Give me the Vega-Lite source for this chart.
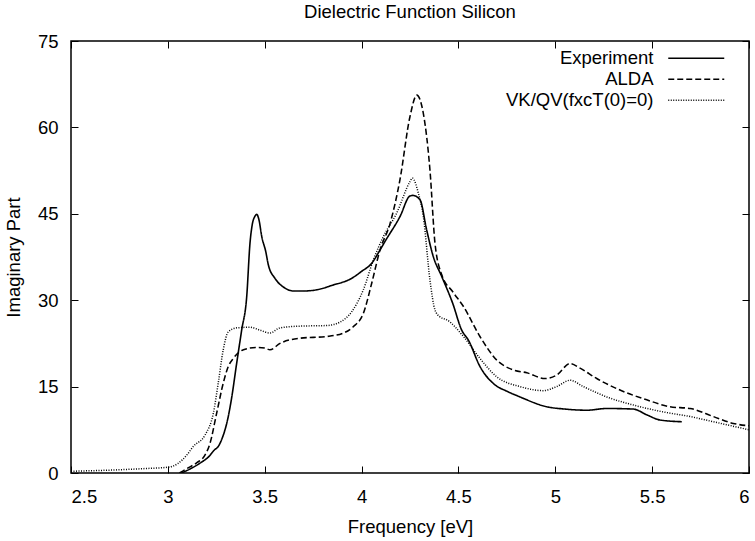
{
  "$schema": "https://vega.github.io/schema/vega-lite/v6.json",
  "width": 678,
  "height": 432,
  "autosize": {"type": "none"},
  "padding": {"left": 71, "top": 41, "right": 6, "bottom": 68},
  "background": "white",
  "title": {"text": "Dielectric Function Silicon", "fontSize": 18.5, "font": "Liberation Sans", "fontWeight": "normal", "color": "black", "offset": 11, "anchor": "middle"},
  "config": {
    "view": {"stroke": "black", "strokeWidth": 1.5},
    "font": "Liberation Sans",
    "axis": {"grid": false, "domain": false, "tickColor": "black", "tickWidth": 1, "tickSize": -7, "labelFont": "Liberation Sans", "labelFontSize": 18.5, "labelColor": "black", "titleFont": "Liberation Sans", "titleFontSize": 18.5, "titleFontWeight": "normal", "titleColor": "black"}
  },
  "data": {"values": [
    {"s": "Experiment", "x": 3.07, "y": 0},
    {"s": "Experiment", "x": 3.12, "y": 0.8},
    {"s": "Experiment", "x": 3.17, "y": 1.8},
    {"s": "Experiment", "x": 3.21, "y": 2.8},
    {"s": "Experiment", "x": 3.24, "y": 4.0},
    {"s": "Experiment", "x": 3.26, "y": 4.6},
    {"s": "Experiment", "x": 3.28, "y": 6.0},
    {"s": "Experiment", "x": 3.295, "y": 7.5},
    {"s": "Experiment", "x": 3.31, "y": 9.5},
    {"s": "Experiment", "x": 3.33, "y": 13.2},
    {"s": "Experiment", "x": 3.355, "y": 19.0},
    {"s": "Experiment", "x": 3.381, "y": 24.8},
    {"s": "Experiment", "x": 3.407, "y": 30.6},
    {"s": "Experiment", "x": 3.424, "y": 39.9},
    {"s": "Experiment", "x": 3.435, "y": 43.0},
    {"s": "Experiment", "x": 3.45, "y": 44.6},
    {"s": "Experiment", "x": 3.459, "y": 44.9},
    {"s": "Experiment", "x": 3.47, "y": 44.0},
    {"s": "Experiment", "x": 3.485, "y": 41.0},
    {"s": "Experiment", "x": 3.505, "y": 38.5},
    {"s": "Experiment", "x": 3.519, "y": 36.1},
    {"s": "Experiment", "x": 3.553, "y": 33.8},
    {"s": "Experiment", "x": 3.6, "y": 32.2},
    {"s": "Experiment", "x": 3.648, "y": 31.6},
    {"s": "Experiment", "x": 3.7, "y": 31.6},
    {"s": "Experiment", "x": 3.768, "y": 31.8},
    {"s": "Experiment", "x": 3.85, "y": 32.6},
    {"s": "Experiment", "x": 3.949, "y": 33.8},
    {"s": "Experiment", "x": 4.0, "y": 35.0},
    {"s": "Experiment", "x": 4.052, "y": 36.4},
    {"s": "Experiment", "x": 4.095, "y": 38.7},
    {"s": "Experiment", "x": 4.121, "y": 40.2},
    {"s": "Experiment", "x": 4.198, "y": 44.5},
    {"s": "Experiment", "x": 4.25, "y": 48.1},
    {"s": "Experiment", "x": 4.265, "y": 48.2},
    {"s": "Experiment", "x": 4.302, "y": 47.4},
    {"s": "Experiment", "x": 4.336, "y": 42.2},
    {"s": "Experiment", "x": 4.37, "y": 37.6},
    {"s": "Experiment", "x": 4.414, "y": 34.1},
    {"s": "Experiment", "x": 4.47, "y": 29.5},
    {"s": "Experiment", "x": 4.517, "y": 24.8},
    {"s": "Experiment", "x": 4.551, "y": 23.1},
    {"s": "Experiment", "x": 4.611, "y": 18.5},
    {"s": "Experiment", "x": 4.689, "y": 15.3},
    {"s": "Experiment", "x": 4.75, "y": 14.2},
    {"s": "Experiment", "x": 4.818, "y": 13.2},
    {"s": "Experiment", "x": 4.956, "y": 11.5},
    {"s": "Experiment", "x": 5.05, "y": 11.1},
    {"s": "Experiment", "x": 5.162, "y": 10.9},
    {"s": "Experiment", "x": 5.266, "y": 11.2},
    {"s": "Experiment", "x": 5.403, "y": 11.1},
    {"s": "Experiment", "x": 5.472, "y": 10.1},
    {"s": "Experiment", "x": 5.541, "y": 9.2},
    {"s": "Experiment", "x": 5.653, "y": 8.9},
    {"s": "ALDA", "x": 3.06, "y": 0},
    {"s": "ALDA", "x": 3.1, "y": 0.8},
    {"s": "ALDA", "x": 3.15, "y": 1.8},
    {"s": "ALDA", "x": 3.19, "y": 3.0},
    {"s": "ALDA", "x": 3.218, "y": 5.2},
    {"s": "ALDA", "x": 3.252, "y": 10.4},
    {"s": "ALDA", "x": 3.286, "y": 15.6},
    {"s": "ALDA", "x": 3.312, "y": 18.5},
    {"s": "ALDA", "x": 3.338, "y": 19.9},
    {"s": "ALDA", "x": 3.39, "y": 21.4},
    {"s": "ALDA", "x": 3.459, "y": 21.8},
    {"s": "ALDA", "x": 3.5, "y": 21.7},
    {"s": "ALDA", "x": 3.527, "y": 21.4},
    {"s": "ALDA", "x": 3.579, "y": 22.5},
    {"s": "ALDA", "x": 3.682, "y": 23.4},
    {"s": "ALDA", "x": 3.82, "y": 23.7},
    {"s": "ALDA", "x": 3.906, "y": 24.3},
    {"s": "ALDA", "x": 3.957, "y": 25.4},
    {"s": "ALDA", "x": 4.009, "y": 27.7},
    {"s": "ALDA", "x": 4.052, "y": 32.9},
    {"s": "ALDA", "x": 4.095, "y": 38.7},
    {"s": "ALDA", "x": 4.147, "y": 43.3},
    {"s": "ALDA", "x": 4.198, "y": 50.9},
    {"s": "ALDA", "x": 4.25, "y": 61.9},
    {"s": "ALDA", "x": 4.285, "y": 65.6},
    {"s": "ALDA", "x": 4.319, "y": 62.4},
    {"s": "ALDA", "x": 4.353, "y": 52.6},
    {"s": "ALDA", "x": 4.379, "y": 39.9},
    {"s": "ALDA", "x": 4.414, "y": 34.4},
    {"s": "ALDA", "x": 4.47, "y": 31.5},
    {"s": "ALDA", "x": 4.526, "y": 28.9},
    {"s": "ALDA", "x": 4.611, "y": 23.7},
    {"s": "ALDA", "x": 4.698, "y": 19.6},
    {"s": "ALDA", "x": 4.783, "y": 17.9},
    {"s": "ALDA", "x": 4.853, "y": 17.4},
    {"s": "ALDA", "x": 4.947, "y": 16.4},
    {"s": "ALDA", "x": 5.007, "y": 17.0},
    {"s": "ALDA", "x": 5.076, "y": 19.0},
    {"s": "ALDA", "x": 5.128, "y": 18.2},
    {"s": "ALDA", "x": 5.214, "y": 16.4},
    {"s": "ALDA", "x": 5.334, "y": 14.4},
    {"s": "ALDA", "x": 5.472, "y": 12.7},
    {"s": "ALDA", "x": 5.592, "y": 11.5},
    {"s": "ALDA", "x": 5.696, "y": 11.2},
    {"s": "ALDA", "x": 5.816, "y": 9.8},
    {"s": "ALDA", "x": 5.919, "y": 8.6},
    {"s": "ALDA", "x": 6.0, "y": 8.2},
    {"s": "VK/QV(fxcT(0)=0)", "x": 2.5, "y": 0.3},
    {"s": "VK/QV(fxcT(0)=0)", "x": 2.7, "y": 0.5},
    {"s": "VK/QV(fxcT(0)=0)", "x": 2.9, "y": 0.8},
    {"s": "VK/QV(fxcT(0)=0)", "x": 3.0, "y": 1.0},
    {"s": "VK/QV(fxcT(0)=0)", "x": 3.05, "y": 1.6},
    {"s": "VK/QV(fxcT(0)=0)", "x": 3.1, "y": 3.2},
    {"s": "VK/QV(fxcT(0)=0)", "x": 3.131, "y": 4.6},
    {"s": "VK/QV(fxcT(0)=0)", "x": 3.192, "y": 6.6},
    {"s": "VK/QV(fxcT(0)=0)", "x": 3.235, "y": 10.4},
    {"s": "VK/QV(fxcT(0)=0)", "x": 3.26, "y": 15.6},
    {"s": "VK/QV(fxcT(0)=0)", "x": 3.286, "y": 21.4},
    {"s": "VK/QV(fxcT(0)=0)", "x": 3.312, "y": 24.5},
    {"s": "VK/QV(fxcT(0)=0)", "x": 3.355, "y": 25.2},
    {"s": "VK/QV(fxcT(0)=0)", "x": 3.424, "y": 25.3},
    {"s": "VK/QV(fxcT(0)=0)", "x": 3.476, "y": 24.8},
    {"s": "VK/QV(fxcT(0)=0)", "x": 3.527, "y": 24.3},
    {"s": "VK/QV(fxcT(0)=0)", "x": 3.579, "y": 25.2},
    {"s": "VK/QV(fxcT(0)=0)", "x": 3.682, "y": 25.5},
    {"s": "VK/QV(fxcT(0)=0)", "x": 3.82, "y": 25.6},
    {"s": "VK/QV(fxcT(0)=0)", "x": 3.889, "y": 26.2},
    {"s": "VK/QV(fxcT(0)=0)", "x": 3.949, "y": 28.0},
    {"s": "VK/QV(fxcT(0)=0)", "x": 4.009, "y": 31.8},
    {"s": "VK/QV(fxcT(0)=0)", "x": 4.061, "y": 37.0},
    {"s": "VK/QV(fxcT(0)=0)", "x": 4.112, "y": 41.0},
    {"s": "VK/QV(fxcT(0)=0)", "x": 4.181, "y": 45.1},
    {"s": "VK/QV(fxcT(0)=0)", "x": 4.25, "y": 50.6},
    {"s": "VK/QV(fxcT(0)=0)", "x": 4.262, "y": 51.2},
    {"s": "VK/QV(fxcT(0)=0)", "x": 4.293, "y": 48.6},
    {"s": "VK/QV(fxcT(0)=0)", "x": 4.319, "y": 44.5},
    {"s": "VK/QV(fxcT(0)=0)", "x": 4.353, "y": 33.5},
    {"s": "VK/QV(fxcT(0)=0)", "x": 4.379, "y": 28.3},
    {"s": "VK/QV(fxcT(0)=0)", "x": 4.405, "y": 27.1},
    {"s": "VK/QV(fxcT(0)=0)", "x": 4.44, "y": 26.6},
    {"s": "VK/QV(fxcT(0)=0)", "x": 4.526, "y": 23.7},
    {"s": "VK/QV(fxcT(0)=0)", "x": 4.611, "y": 19.9},
    {"s": "VK/QV(fxcT(0)=0)", "x": 4.698, "y": 16.7},
    {"s": "VK/QV(fxcT(0)=0)", "x": 4.818, "y": 15.0},
    {"s": "VK/QV(fxcT(0)=0)", "x": 4.938, "y": 14.3},
    {"s": "VK/QV(fxcT(0)=0)", "x": 5.007, "y": 15.0},
    {"s": "VK/QV(fxcT(0)=0)", "x": 5.076, "y": 16.1},
    {"s": "VK/QV(fxcT(0)=0)", "x": 5.145, "y": 15.0},
    {"s": "VK/QV(fxcT(0)=0)", "x": 5.266, "y": 13.2},
    {"s": "VK/QV(fxcT(0)=0)", "x": 5.403, "y": 11.8},
    {"s": "VK/QV(fxcT(0)=0)", "x": 5.558, "y": 10.6},
    {"s": "VK/QV(fxcT(0)=0)", "x": 5.696, "y": 9.8},
    {"s": "VK/QV(fxcT(0)=0)", "x": 5.816, "y": 8.9},
    {"s": "VK/QV(fxcT(0)=0)", "x": 6.0, "y": 7.5}
  ]},
  "resolve": {"axis": {"x": "independent", "y": "independent"}},
  "layer": [
    {
      "mark": {"type": "line", "color": "black", "interpolate": "monotone", "clip": true},
      "encoding": {
        "x": {"field": "x", "type": "quantitative", "scale": {"domain": [2.5, 6], "nice": false, "zero": false},
              "axis": {"orient": "bottom", "values": [2.5, 3, 3.5, 4, 4.5, 5, 5.5, 6], "format": "~g", "labelPadding": 21, "title": "Frequency [eV]", "titlePadding": 12}},
        "y": {"field": "y", "type": "quantitative", "scale": {"domain": [0, 75], "nice": false},
              "axis": {"orient": "left", "values": [0, 15, 30, 45, 60, 75], "labelPadding": 20, "title": "Imaginary Part", "titlePadding": 14}},
        "strokeDash": {"field": "s", "type": "nominal",
              "scale": {"domain": ["Experiment", "ALDA", "VK/QV(fxcT(0)=0)"], "range": [[1, 0], [6, 3], [1, 1.5]]},
              "legend": {"title": null, "orient": "none", "legendX": 588, "legendY": 8, "symbolType": "M0,0H56", "symbolSize": 4, "symbolStrokeColor": "black", "symbolFillColor": "transparent", "labelAlign": "right", "labelOffset": -24, "labelFontSize": 18.5, "labelFont": "Liberation Sans", "labelColor": "black", "rowPadding": 2, "padding": 0}},
        "strokeWidth": {"field": "s", "type": "nominal",
              "scale": {"domain": ["Experiment", "ALDA", "VK/QV(fxcT(0)=0)"], "range": [1.6, 1.5, 1.1]},
              "legend": null}
      }
    },
    {
      "mark": {"type": "point", "opacity": 0},
      "encoding": {
        "x": {"field": "x", "type": "quantitative", "axis": {"orient": "top", "values": [2.5, 3, 3.5, 4, 4.5, 5, 5.5, 6], "labels": false, "title": null}},
        "y": {"field": "y", "type": "quantitative", "axis": {"orient": "right", "values": [0, 15, 30, 45, 60, 75], "labels": false, "title": null}}
      }
    }
  ]
}
